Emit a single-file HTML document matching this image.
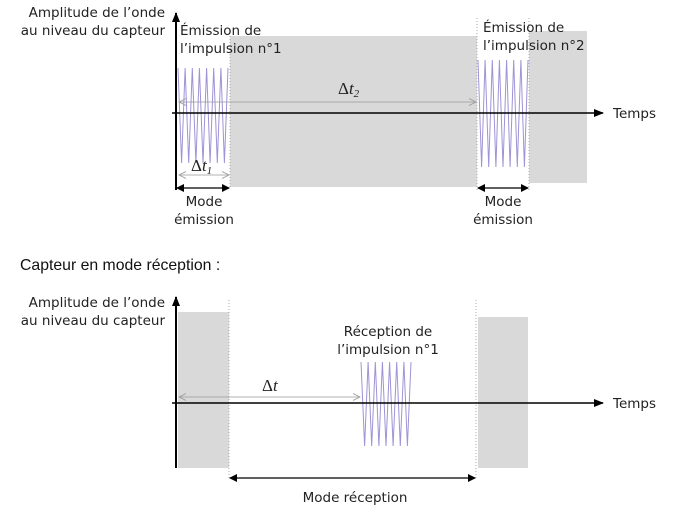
<!DOCTYPE html>
<html><head><meta charset="utf-8"><style>
body{margin:0;background:#fff;}
svg{display:block;font-family:"Liberation Sans",sans-serif;}
.c{font-family:"DejaVu Sans","Liberation Sans",sans-serif;font-size:13.5px;fill:#222;}
</style></head><body>
<svg width="674" height="508" viewBox="0 0 674 508" xmlns="http://www.w3.org/2000/svg">
<defs>
<marker id="ab" markerWidth="10" markerHeight="8" refX="9" refY="4" orient="auto" markerUnits="userSpaceOnUse"><path d="M0,0 L10,4 L0,8 Z" fill="#000"/></marker>
<marker id="ab2" markerWidth="8" markerHeight="8" refX="7" refY="4" orient="auto-start-reverse" markerUnits="userSpaceOnUse"><path d="M0,0 L8,4 L0,8 Z" fill="#000"/></marker>
<marker id="ag" markerWidth="8" markerHeight="8" refX="7" refY="4" orient="auto-start-reverse" markerUnits="userSpaceOnUse"><path d="M0,0.5 L7,4 L0,7.5" fill="none" stroke="#999" stroke-width="0.8"/></marker>
</defs>
<!-- TOP -->
<rect x="230" y="36" width="247" height="151" fill="#d9d9d9"/>
<rect x="529" y="31" width="58" height="152" fill="#d9d9d9"/>
<line x1="230" y1="36" x2="230" y2="188" stroke="#aaa" stroke-dasharray="1,2"/>
<line x1="477" y1="18" x2="477" y2="190" stroke="#aaa" stroke-dasharray="1,2"/>
<line x1="529" y1="18" x2="529" y2="190" stroke="#aaa" stroke-dasharray="1,2"/>
<polyline fill="none" stroke="#a093d6" stroke-width="1" points="178,68 181.6,163 185.1,68 188.7,163 192.3,68 195.9,163 199.4,68 203,163 206.6,68 210.1,163 213.7,68 217.3,163 220.9,68 224.4,163 228,68"/>
<polyline fill="none" stroke="#a093d6" stroke-width="1" points="478,60 481.6,167 485.1,60 488.7,167 492.3,60 495.9,167 499.4,60 503,167 506.6,60 510.1,167 513.7,60 517.3,167 520.9,60 524.4,167 528,60"/>
<line x1="176" y1="190" x2="176" y2="13" stroke="#000" stroke-width="2" marker-end="url(#ab)"/>
<line x1="172" y1="113" x2="603" y2="113" stroke="#000" stroke-width="1.5" marker-end="url(#ab)"/>
<line x1="179" y1="102" x2="476" y2="102" stroke="#999" stroke-width="0.8" marker-start="url(#ag)" marker-end="url(#ag)"/>
<line x1="179" y1="175" x2="229" y2="175" stroke="#999" stroke-width="0.8" marker-start="url(#ag)" marker-end="url(#ag)"/>
<line x1="177" y1="188" x2="229" y2="188" stroke="#000" stroke-width="1.2" marker-start="url(#ab2)" marker-end="url(#ab2)"/>
<line x1="478" y1="188" x2="528" y2="188" stroke="#000" stroke-width="1.2" marker-start="url(#ab2)" marker-end="url(#ab2)"/>
<text class="c" x="165" y="17" text-anchor="end">Amplitude de l’onde</text>
<text class="c" x="165" y="35" text-anchor="end">au niveau du capteur</text>
<text class="c" x="180" y="35">Émission de</text>
<text class="c" x="180" y="53">l’impulsion n°1</text>
<text class="c" x="483" y="32">Émission de</text>
<text class="c" x="483" y="50">l’impulsion n°2</text>
<text class="c" x="613" y="118">Temps</text>
<text x="338" y="94" font-family="Liberation Serif,serif" font-size="17" fill="#222">Δ<tspan font-style="italic">t</tspan><tspan font-size="11" dy="3" font-style="italic">2</tspan></text>
<text x="191" y="171" font-family="Liberation Serif,serif" font-size="17" fill="#222">Δ<tspan font-style="italic">t</tspan><tspan font-size="11" dy="3" font-style="italic">1</tspan></text>
<text class="c" x="204" y="206" text-anchor="middle">Mode</text>
<text class="c" x="204" y="224" text-anchor="middle">émission</text>
<text class="c" x="503" y="206" text-anchor="middle">Mode</text>
<text class="c" x="503" y="224" text-anchor="middle">émission</text>
<!-- middle label -->
<text x="20" y="270" font-family="Liberation Sans,sans-serif" font-size="15.8" fill="#111">Capteur en mode réception :</text>
<!-- BOTTOM -->
<rect x="178" y="312" width="51" height="156" fill="#d9d9d9"/>
<rect x="478" y="317" width="50" height="151" fill="#d9d9d9"/>
<line x1="229" y1="300" x2="229" y2="480" stroke="#aaa" stroke-dasharray="1,2"/>
<line x1="476" y1="300" x2="476" y2="480" stroke="#aaa" stroke-dasharray="1,2"/>
<polyline fill="none" stroke="#a093d6" stroke-width="1" points="361,362 364.6,446 368.1,362 371.7,446 375.3,362 378.9,446 382.4,362 386,446 389.6,362 393.1,446 396.7,362 400.3,446 403.9,362 407.4,446 411,362"/>
<line x1="176" y1="468" x2="176" y2="297" stroke="#000" stroke-width="2" marker-end="url(#ab)"/>
<line x1="172" y1="403" x2="603" y2="403" stroke="#000" stroke-width="1.5" marker-end="url(#ab)"/>
<line x1="179" y1="397" x2="360" y2="397" stroke="#999" stroke-width="0.8" marker-start="url(#ag)" marker-end="url(#ag)"/>
<line x1="230" y1="478" x2="475" y2="478" stroke="#000" stroke-width="1.2" marker-start="url(#ab2)" marker-end="url(#ab2)"/>
<text class="c" x="165" y="307" text-anchor="end">Amplitude de l’onde</text>
<text class="c" x="165" y="325" text-anchor="end">au niveau du capteur</text>
<text class="c" x="388" y="336" text-anchor="middle">Réception de</text>
<text class="c" x="388" y="354" text-anchor="middle">l’impulsion n°1</text>
<text class="c" x="613" y="408">Temps</text>
<text x="262" y="391" font-family="Liberation Serif,serif" font-size="17" fill="#222">Δ<tspan font-style="italic">t</tspan></text>
<text class="c" x="355" y="502" text-anchor="middle">Mode réception</text>
</svg>
</body></html>
